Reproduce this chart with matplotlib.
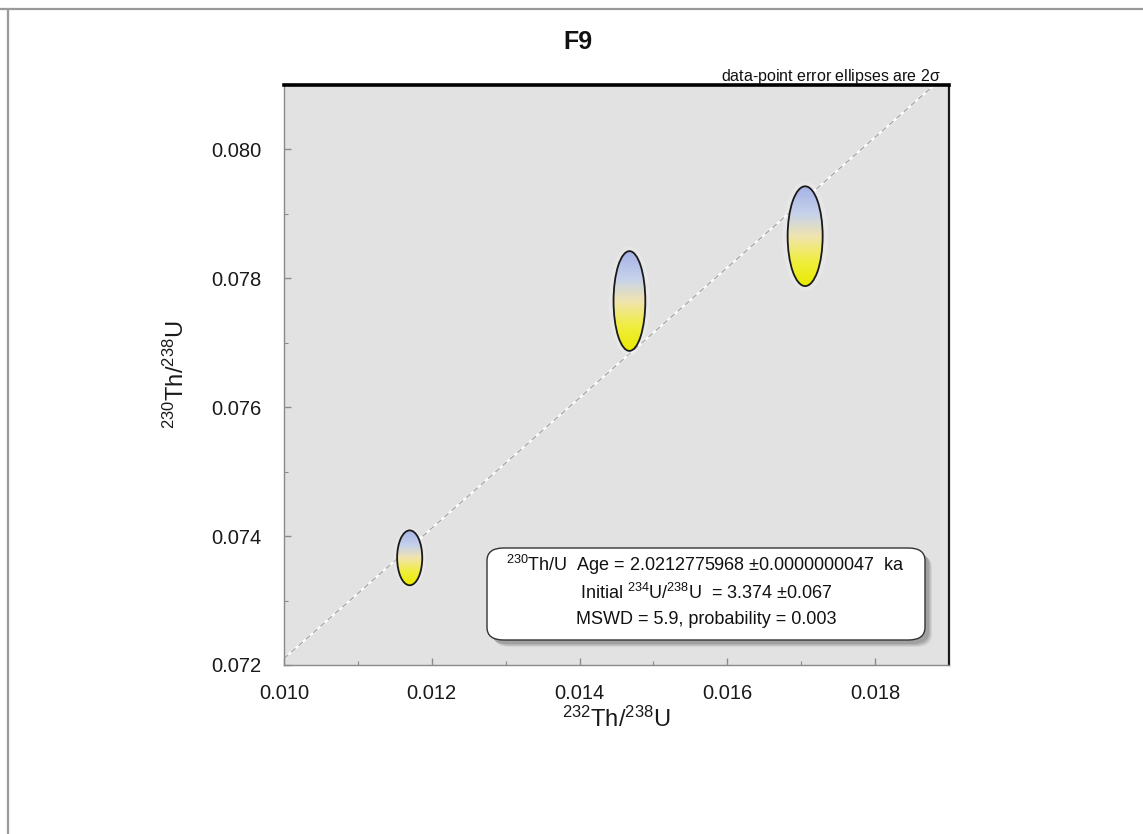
import numpy as np
import matplotlib
matplotlib.use("Agg")
import matplotlib.pyplot as plt
from matplotlib.patches import Ellipse, FancyBboxPatch
from matplotlib.colors import LinearSegmentedColormap
from matplotlib.ticker import MultipleLocator, FormatStrFormatter
import matplotlib.transforms as mtransforms
from matplotlib.lines import Line2D

plt.rcParams['font.family'] = ['Liberation Sans', 'DejaVu Sans']
plt.rcParams['mathtext.fontset'] = 'custom'
plt.rcParams['mathtext.rm'] = 'Liberation Sans'
plt.rcParams['mathtext.it'] = 'Liberation Sans:italic'
plt.rcParams['mathtext.bf'] = 'Liberation Sans:bold'
plt.rcParams['mathtext.default'] = 'regular'

# ---- data ----
title = "F9"
ell_x = [0.011701, 0.014675, 0.017053]      # 232Th/238U
ell_y = [0.073663, 0.077648, 0.078654]      # 230Th/238U
ell_x_err = [0.000170, 0.000215, 0.000237]  # 2-sigma half widths
ell_y_err = [0.000426, 0.000774, 0.000774]  # 2-sigma half heights
isochron_x = [0.0100, 0.0188]
isochron_y = [0.0721, 0.0810]
x_ticks = [0.010, 0.012, 0.014, 0.016, 0.018]
y_ticks = [0.072, 0.074, 0.076, 0.078, 0.080]
x_lim = (0.010, 0.019)
y_lim = (0.072, 0.081)
result_lines = [
    r"$^{230}$Th/U  Age = 2.0212775968 $\pm$0.0000000047  ka",
    r"Initial $^{234}$U/$^{238}$U  = 3.374 $\pm$0.067",
    "MSWD = 5.9, probability = 0.003",
]
note = r"data-point error ellipses are 2$\sigma$"

W, H = 1143, 834
fig = plt.figure(figsize=(W / 100, H / 100), dpi=100)
fig.patch.set_facecolor('white')

# outer frame lines
fig.add_artist(Line2D([0, 1], [1 - 8.5 / H, 1 - 8.5 / H], transform=fig.transFigure,
                      color='#9a9a9a', lw=1.6))
fig.add_artist(Line2D([7.5 / W, 7.5 / W], [0, 1 - 8.5 / H], transform=fig.transFigure,
                      color='#9a9a9a', lw=1.6))

ax = fig.add_axes([284 / W, (H - 665) / H, 665 / W, 580 / H])
ax.set_facecolor('#e2e2e2')

# isochron line
ax.plot(isochron_x, isochron_y, color='white', lw=1.6, alpha=0.9, zorder=2)
ax.plot(isochron_x, isochron_y, color='#a8a8a8', lw=1.0, dashes=(4, 3), zorder=2.1)

# gradient ellipses
cmap = LinearSegmentedColormap.from_list('ellgrad', [
    (0.0, '#eaea00'),
    (0.25, '#f0ee40'),
    (0.5, '#f0e4b0'),
    (0.72, '#c6d2ea'),
    (1.0, '#a6b2e6'),
])
grad = np.linspace(0, 1, 256).reshape(-1, 1)
for cx, cy, ex, ey in zip(ell_x, ell_y, ell_x_err, ell_y_err):
    # soft halo
    halo = Ellipse((cx, cy), 2 * ex * 1.3, 2 * ey * 1.1, facecolor='white',
                   edgecolor='none', alpha=0.2, zorder=2.5)
    ax.add_patch(halo)
    e = Ellipse((cx, cy), 2 * ex, 2 * ey, facecolor='none', edgecolor='none', zorder=3)
    ax.add_patch(e)
    im = ax.imshow(grad, cmap=cmap, origin='lower', aspect='auto',
                   extent=[cx - ex, cx + ex, cy - ey, cy + ey], zorder=3,
                   interpolation='bilinear')
    im.set_clip_path(e)
    ax.add_patch(Ellipse((cx, cy), 2 * ex, 2 * ey, facecolor='none',
                         edgecolor='#1a1a1a', lw=1.3, zorder=4))

ax.set_xlim(*x_lim)
ax.set_ylim(*y_lim)
ax.set_xticks(x_ticks)
ax.set_yticks(y_ticks)
ax.xaxis.set_minor_locator(MultipleLocator(0.001))
ax.yaxis.set_minor_locator(MultipleLocator(0.001))
ax.xaxis.set_major_formatter(FormatStrFormatter('%.3f'))
ax.yaxis.set_major_formatter(FormatStrFormatter('%.3f'))
ax.tick_params(which='both', direction='in', color='#8c8c8c', labelsize=14.5,
               labelcolor='#1a1a1a')
ax.tick_params(which='major', length=5, width=1)
ax.tick_params(which='minor', length=3, width=0.8)
ax.tick_params(axis='x', pad=14)
ax.tick_params(axis='y', pad=16)

for s in ['left', 'bottom']:
    ax.spines[s].set_color('#8a8a8a')
    ax.spines[s].set_linewidth(1.0)
ax.spines['top'].set_color('black')
ax.spines['top'].set_linewidth(2.6)
ax.spines['right'].set_color('#1a1a1a')
ax.spines['right'].set_linewidth(1.6)

ax.set_xlabel(r"$^{232}$Th/$^{238}$U", fontsize=17, labelpad=2, color='#1a1a1a')
ax.set_ylabel(r"$^{230}$Th/$^{238}$U", fontsize=17, labelpad=16, color='#1a1a1a')

fig.text(578 / W, 1 - 42 / H, title, fontsize=18, fontweight='bold',
         ha='center', va='center', color='#111111')
fig.text(941 / W, 1 - 77 / H, note, fontsize=11.5, ha='right', va='center',
         color='#111111')

# result box with shadow
bx0, bx1 = (487 - 284) / 665, (925 - 284) / 665
by0, by1 = (665 - 640) / 580, (665 - 548) / 580
for i, (dx, dy, a) in enumerate([(7, -7, 0.10), (6, -6, 0.12), (5, -5, 0.15), (4, -4, 0.18)]):
    tr = mtransforms.offset_copy(ax.transAxes, fig=fig, x=dx, y=dy, units='dots')
    sh = FancyBboxPatch((bx0, by0), bx1 - bx0, by1 - by0,
                        boxstyle='round,pad=0,rounding_size=0.025',
                        transform=tr, facecolor='#555555', edgecolor='none',
                        alpha=a, zorder=5, mutation_aspect=580 / 665)
    ax.add_patch(sh)
box = FancyBboxPatch((bx0, by0), bx1 - bx0, by1 - by0,
                     boxstyle='round,pad=0,rounding_size=0.025',
                     transform=ax.transAxes, facecolor='white', edgecolor='#333333',
                     lw=1.0, zorder=6, mutation_aspect=580 / 665)
ax.add_patch(box)
cx_box = (706 - 284) / 665
for yy, txt in zip([565, 593, 620], result_lines):
    ax.text(cx_box, (665 - yy) / 580, txt, transform=ax.transAxes, ha='center',
            va='center', fontsize=13, color='#111111', zorder=7)

fig.savefig('out.png', dpi=100, facecolor='white')
